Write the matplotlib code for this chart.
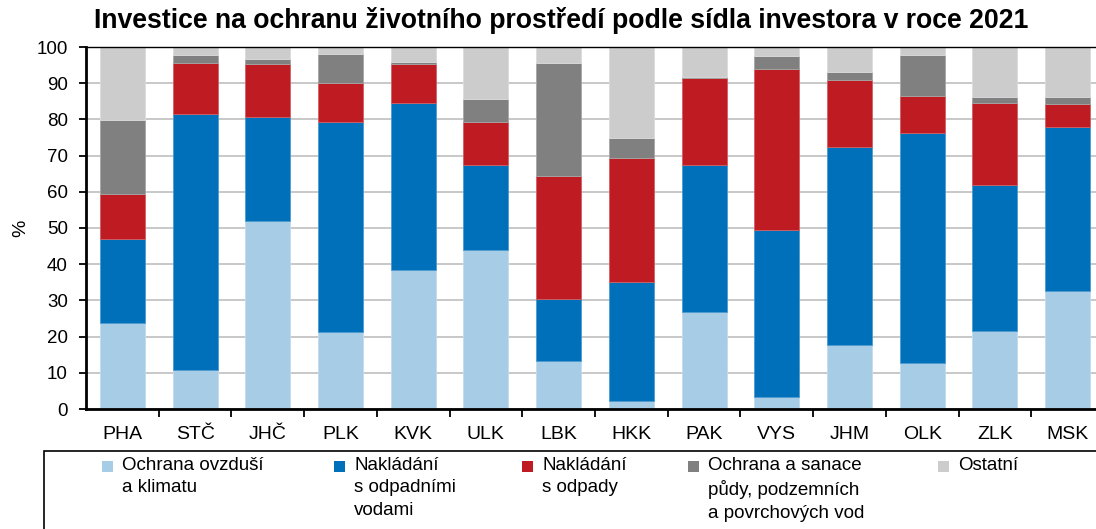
#!/usr/bin/env python3
"""Investice na ochranu ŽP podle sídla investora, 2021 - 100% stacked bars."""

import numpy as np
import matplotlib
matplotlib.use("Agg")
import matplotlib.pyplot as plt
from matplotlib.colors import to_rgb
from matplotlib.patches import Rectangle

plt.rcParams['font.family'] = ['Liberation Sans', 'DejaVu Sans']

# kraje
regions = ['PHA', 'STČ', 'JHČ', 'PLK', 'KVK', 'ULK', 'LBK',
           'HKK', 'PAK', 'VYS', 'JHM', 'OLK', 'ZLK', 'MSK']

# podíly v %
ovzdusi = [23.7, 10.9, 52.0, 21.3, 38.5, 43.8, 13.2, 2.2, 26.8, 3.3, 17.6, 12.7, 21.6, 32.6]
odpadni_vody = [23.3, 70.5, 28.6, 57.9, 46.0, 23.7, 17.3, 32.8, 40.7, 46.1, 54.7, 63.5, 40.3, 45.3]
odpady = [12.5, 14.1, 14.7, 10.8, 10.7, 11.7, 33.8, 34.3, 23.9, 44.4, 18.5, 10.4, 22.6, 6.3]
puda_vody = [20.4, 2.2, 1.3, 8.1, 0.7, 6.5, 31.2, 5.6, 0.4, 3.7, 2.4, 11.1, 1.6, 1.9]
ostatni = [20.1, 2.3, 3.4, 1.9, 4.1, 14.3, 4.5, 25.1, 8.2, 2.5, 6.8, 2.3, 13.9, 13.9]

series = [ovzdusi, odpadni_vody, odpady, puda_vody, ostatni]
labels = ['Ochrana ovzduší\na klimatu',
          'Nakládání\ns odpadními\nvodami',
          'Nakládání\ns odpady',
          'Ochrana a sanace\npůdy, podzemních\na povrchových vod',
          'Ostatní']
colors = ['#a6cce6', '#0070bb', '#be1b22', '#808080', '#cccccc']

W, H = 1096, 529


def px(x, y):
    """pixel (from top-left) -> figure fraction"""
    return x / W, 1 - y / H


def lighter(c, f=0.3):
    r, g, b = to_rgb(c)
    return (r + (1 - r) * f, g + (1 - g) * f, b + (1 - b) * f)


fig = plt.figure(figsize=(W / 100, H / 100), dpi=100)
ax = fig.add_axes([86 / W, 1 - 409 / H, 1018 / W, 362 / H])

x = np.arange(len(regions))
bottom = np.zeros(len(regions))
for vals, col in zip(series, colors):
    ax.bar(x, vals, width=0.62, bottom=bottom, color=col,
           edgecolor=lighter(col), linewidth=0.6, zorder=2)
    bottom += np.array(vals)

ax.set_xlim(-0.5, len(regions) - 0.5)
ax.set_ylim(0, 100)
ax.set_yticks(np.arange(0, 101, 10))
ax.yaxis.grid(True, color='#c4c4c4', linewidth=1.3, zorder=0)
ax.set_axisbelow(True)

ax.set_xticks(x)
ax.set_xticklabels(regions, fontsize=14)
ax.set_xticks(np.arange(0.5, len(regions) - 0.5), minor=True)
ax.tick_params(axis='x', which='major', length=0, pad=12)
ax.tick_params(axis='x', which='minor', length=6, width=1.3, direction='out')
ax.tick_params(axis='y', length=5, width=1.3, direction='out', pad=8, labelsize=13.5)

for s in ['left', 'bottom']:
    ax.spines[s].set_linewidth(2)
ax.spines['top'].set_linewidth(1)
ax.spines['right'].set_visible(False)

ax.set_ylabel('%', fontsize=14)
ax.yaxis.set_label_coords((29 - 86) / 1018, 0.5)

fig.text(*px(561, 20), 'Investice na ochranu životního prostředí podle sídla investora v roce 2021',
         ha='center', va='center', fontsize=19.2, fontweight='bold')

# legenda - ručně, rámeček přesahuje okraj obrázku
fig.patches.append(Rectangle(px(44, 560), (1200 - 44) / W, (560 - 451) / H,
                             transform=fig.transFigure, fill=False,
                             edgecolor='black', linewidth=1.2))
marker_x = [102, 334, 522, 688, 938]
for mx, lab, col in zip(marker_x, labels, colors):
    fig.patches.append(Rectangle(px(mx, 472), 11 / W, 11 / H,
                                 transform=fig.transFigure, color=col, linewidth=0))
    fig.text(*px(mx + 20, 457), lab, ha='left', va='top', fontsize=13.5, linespacing=1.42)

plt.savefig('out.png', dpi=100)
plt.close()
